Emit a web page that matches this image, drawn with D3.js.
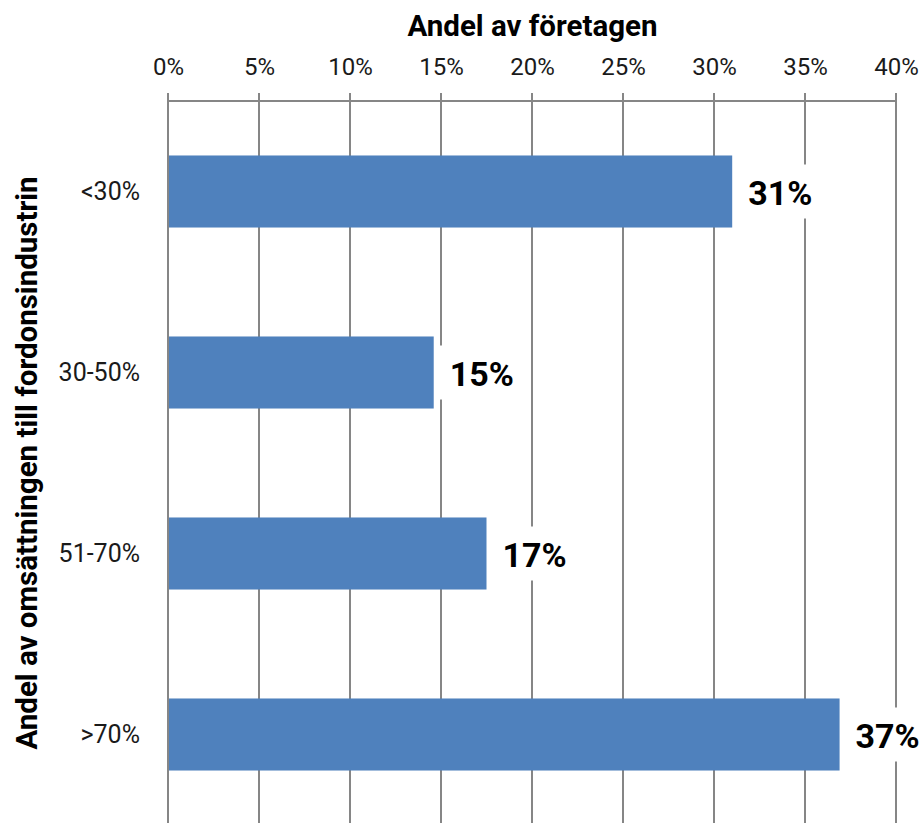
<!DOCTYPE html>
<html>
<head>
<meta charset="utf-8">
<script src="https://cdn.jsdelivr.net/npm/d3@7"></script>
<style>
  html, body { margin: 0; padding: 0; background: #fff; }
  svg { display: block; }
</style>
</head>
<body>
<svg id="chart" width="922" height="823"></svg>
<script>
const categories = ["<30%", "30-50%", "51-70%", ">70%"];
const values = [31.0, 14.6, 17.5, 36.9];
const valueLabels = ["31%", "15%", "17%", "37%"];
const xTicks = [0, 5, 10, 15, 20, 25, 30, 35, 40];
const xTitle = "Andel av företagen";
const yTitle = "Andel av omsättningen till fordonsindustrin";

const W = 922, H = 823;
const plot = { left: 168, right: 896, top: 101, bottom: 825 };
const FONT = "Roboto, 'Liberation Sans', Arial, sans-serif";
const gridColor = "#868686";
const textColor = "#1a1a1a";
const barColor = "#4F81BD";

const svg = d3.select("#chart");

const x = d3.scaleLinear().domain([0, 40]).range([plot.left, plot.right]);
const y = d3.scaleBand().domain(categories).range([plot.top, plot.bottom])
  .paddingInner(0.602).paddingOuter(0.301);

// Gridlines (incl. outward ticks above axis)
svg.append("g").selectAll("line").data(xTicks).join("line")
  .attr("x1", d => x(d)).attr("x2", d => x(d))
  .attr("y1", plot.top - 8).attr("y2", plot.bottom)
  .attr("stroke", gridColor).attr("stroke-width", 2);

// Top axis line
svg.append("line")
  .attr("x1", x(0)).attr("x2", x(40))
  .attr("y1", plot.top).attr("y2", plot.top)
  .attr("stroke", gridColor).attr("stroke-width", 2);

// Top axis labels via d3.axisTop
const xAxis = d3.axisTop(x).tickValues(xTicks).tickSize(0).tickPadding(26)
  .tickFormat(d => d + "%");
const gx = svg.append("g").attr("transform", `translate(0,${plot.top})`).call(xAxis);
gx.select(".domain").remove();
gx.selectAll("text").attr("font-family", FONT).attr("font-size", 24)
  .attr("fill", textColor);

// Left axis labels via d3.axisLeft
const yAxis = d3.axisLeft(y).tickSize(0).tickPadding(28);
const gy = svg.append("g").attr("transform", `translate(${plot.left},0)`).call(yAxis);
gy.select(".domain").remove();
gy.selectAll("text").attr("font-family", FONT).attr("font-size", 25)
  .attr("fill", textColor).attr("dy", "0.35em");

// Bars
svg.append("g").selectAll("rect").data(categories).join("rect")
  .attr("x", x(0) + 1)
  .attr("y", d => y(d))
  .attr("width", (d, i) => x(values[i]) - x(0) - 1)
  .attr("height", y.bandwidth())
  .attr("fill", barColor);

// Left axis line
svg.append("line")
  .attr("x1", plot.left).attr("x2", plot.left)
  .attr("y1", plot.top).attr("y2", plot.bottom)
  .attr("stroke", gridColor).attr("stroke-width", 2);

// Value labels with white background
const lg = svg.append("g");
categories.forEach((c, i) => {
  const cy = y(c) + y.bandwidth() / 2;
  const g = lg.append("g");
  const bg = g.append("rect").attr("fill", "#fff");
  const t = g.append("text")
    .attr("x", x(values[i]) + 16)
    .attr("y", cy + 13)
    .attr("font-family", FONT).attr("font-size", 34).attr("font-weight", "bold")
    .attr("fill", "#000")
    .text(valueLabels[i]);
  const bb = t.node().getBBox();
  bg.attr("x", x(values[i]) + 5).attr("y", cy - 27)
    .attr("width", bb.x + bb.width + 7 - (x(values[i]) + 5)).attr("height", 54);
});

// X title
svg.append("text")
  .attr("x", 532.5).attr("y", 36)
  .attr("text-anchor", "middle")
  .attr("font-family", FONT).attr("font-size", 29.5).attr("font-weight", "bold")
  .attr("fill", "#000").text(xTitle);

// Y title
svg.append("text")
  .attr("transform", `translate(37,${(plot.top + plot.bottom) / 2}) rotate(-90)`)
  .attr("text-anchor", "middle")
  .attr("font-family", FONT).attr("font-size", 29.5).attr("font-weight", "bold")
  .attr("fill", "#000").text(yTitle);
</script>
</body>
</html>
